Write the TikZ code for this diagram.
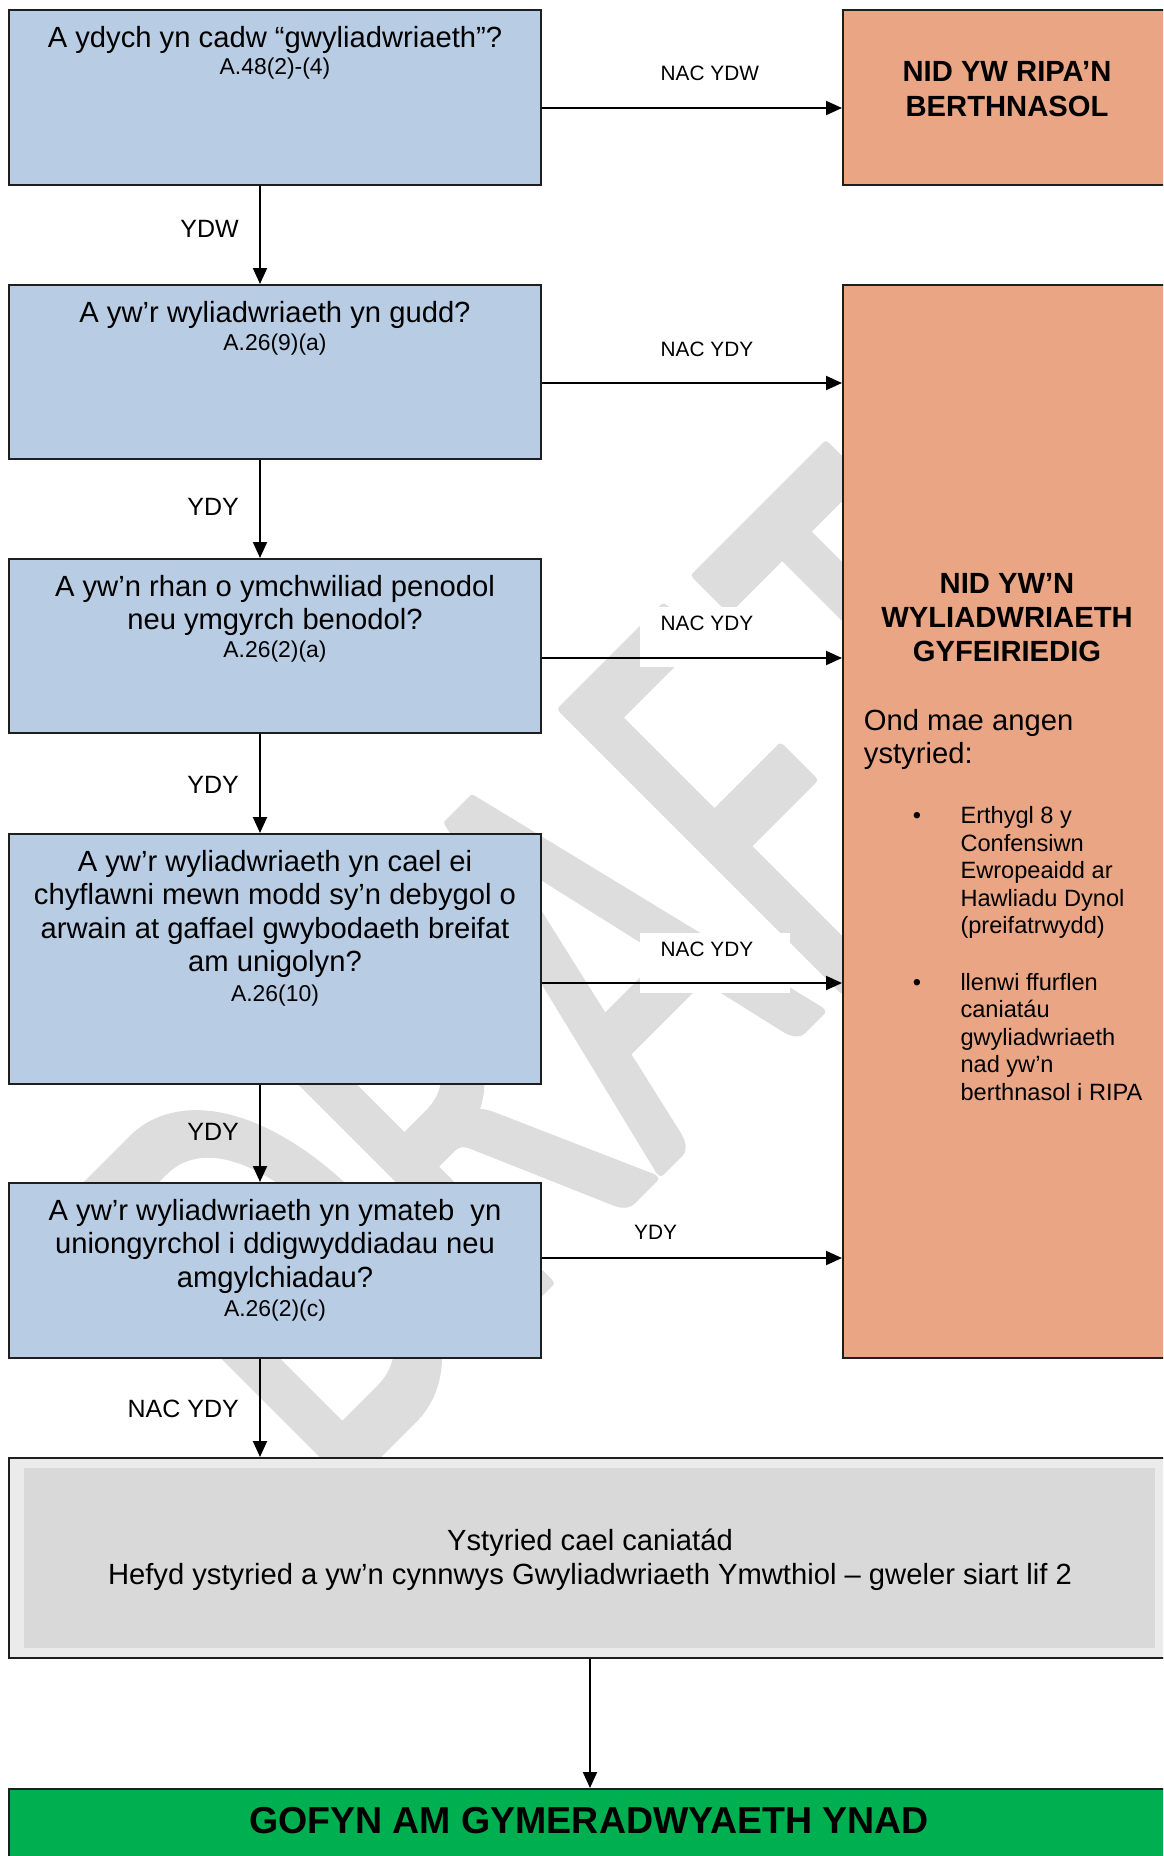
\documentclass[tikz,border=0pt]{standalone}
\usepackage{fontspec}
\usepackage{graphicx}
\setmainfont{Liberation Sans}
\newfontfamily\wmfont{Carlito}
\usetikzlibrary{arrows.meta}
\definecolor{boxblue}{RGB}{184,204,228}
\definecolor{boxorange}{RGB}{234,165,132}
\definecolor{boxgreen}{RGB}{0,176,80}
\definecolor{grayout}{RGB}{235,235,235}
\definecolor{grayin}{RGB}{217,217,217}
\definecolor{wmgray}{RGB}{221,221,221}
\definecolor{edgecol}{RGB}{30,30,30}
\tikzset{
  boxbase/.style={draw=edgecol, line width=2pt, rectangle, inner sep=0pt, anchor=north west},
  qbox/.style={boxbase, fill=boxblue, minimum width=532pt, minimum height=#1},
  obox/.style={boxbase, fill=boxorange, minimum width=340pt, minimum height=#1},
  qtext/.style={anchor=north, inner sep=0pt, align=center, font=\fontsize{29.2}{33.5}\selectfont},
  reftext/.style={anchor=base, inner sep=0pt, font=\fontsize{22.9}{26}\selectfont},
  llabel/.style={anchor=base east, inner sep=0pt, font=\fontsize{25}{28}\selectfont},
  rlabel/.style={anchor=base west, inner xsep=0pt, inner ysep=0pt, fill=white, text height=23pt, text depth=37pt, font=\fontsize{20.8}{24}\selectfont},
  arr/.style={line width=2pt, draw=black, -{Triangle[length=16pt,width=14pt]}},
  bullettext/.style={anchor=north west, inner sep=0pt, align=left, font=\fontsize{23.6}{27.5}\selectfont},
  bulletdot/.style={anchor=base, inner sep=0pt, font=\fontsize{23.6}{27.5}\selectfont},
}
\begin{document}
\begin{tikzpicture}[x=1pt,y=-1pt]
\clip (0,0) rectangle (1163,1856);
\fill[white] (0,0) rectangle (1163,1856);
% watermark
\node[rotate=45, anchor=base west, inner sep=0pt, text=wmgray, font=\fontsize{617}{617}\wmfont] (wm) at (330,1502) {\scalebox{0.65}[1]{\special{pdf:literal direct 1 j 1 J 9 w 2 Tr}DRAF\kern42pt T\special{pdf:literal direct 0 Tr}}};
% question boxes
\node[qbox=175pt] (q1) at (8,9) {};
\node[qbox=174pt] (q2) at (8,284) {};
\node[qbox=174pt] (q3) at (8,558) {};
\node[qbox=250pt] (q4) at (8,833) {};
\node[qbox=175pt] (q5) at (8,1182) {};
% outcome boxes
\node[obox=175pt] (o1) at (842,9) {};
\node[obox=1073pt] (o2) at (842,284) {};
\node[boxbase, fill=grayout, minimum width=1170pt, minimum height=200pt] (g) at (8,1457) {};
\fill[grayin] (24,1468) rectangle (1155,1648);
\node[boxbase, fill=boxgreen, minimum width=1170pt, minimum height=100pt] (gr) at (8,1788) {};
% question texts
\node[qtext] (t1) at ([yshift=-14pt]q1.north) {\rule{0pt}{24pt}A ydych yn cadw “gwyliadwriaeth”?};
\node[reftext] (r1) at ([yshift=-65pt]q1.north) {A.48(2)-(4)};
\node[qtext] (t2) at ([yshift=-14pt]q2.north) {\rule{0pt}{24pt}A yw’r wyliadwriaeth yn gudd?};
\node[reftext] (r2) at ([yshift=-66pt]q2.north) {A.26(9)(a)};
\node[qtext] (t3) at ([yshift=-14pt]q3.north) {\rule{0pt}{24pt}A yw’n rhan o ymchwiliad penodol\\neu ymgyrch benodol?};
\node[reftext] (r3) at ([yshift=-99.5pt]q3.north) {A.26(2)(a)};
\node[qtext] (t4) at ([yshift=-14pt]q4.north) {\rule{0pt}{24pt}A yw’r wyliadwriaeth yn cael ei\\chyflawni mewn modd sy’n debygol o\\arwain at gaffael gwybodaeth breifat\\am unigolyn?};
\node[reftext] (r4) at ([yshift=-168pt]q4.north) {A.26(10)};
\node[qtext] (t5) at ([yshift=-14pt]q5.north) {\rule{0pt}{24pt}A yw’r wyliadwriaeth yn ymateb\ \ yn\\uniongyrchol i ddigwyddiadau neu\\amgylchiadau?};
\node[reftext] (r5) at ([yshift=-134pt]q5.north) {A.26(2)(c)};
% outcome texts
\node[anchor=north, inner sep=0pt, align=center, font=\fontsize{29.2}{35}\selectfont\bfseries] (ot1) at (1007,57.7) {\rule{0pt}{24pt}NID YW RIPA’N\\BERTHNASOL};
\node[anchor=north, inner sep=0pt, align=center, font=\fontsize{29.2}{34}\selectfont\bfseries] (ot2) at (1007,569) {\rule{0pt}{24pt}NID YW’N\\WYLIADWRIAETH\\GYFEIRIEDIG};
\node[anchor=north west, inner sep=0pt, align=left, font=\fontsize{29.2}{33}\selectfont] (ot3) at (863.7,706) {\rule{0pt}{24pt}Ond mae angen\\ystyried:};
\node[bulletdot] (b1) at (917,823.3) {•};
\node[bullettext] (bt1) at (960.3,803.3) {\rule{0pt}{20pt}Erthygl 8 y\\Confensiwn\\Ewropeaidd ar\\Hawliadu Dynol\\(preifatrwydd)};
\node[bulletdot] (b2) at (917,990) {•};
\node[bullettext] (bt2) at (960.3,970) {\rule{0pt}{20pt}llenwi ffurflen\\caniatáu\\gwyliadwriaeth\\nad yw’n\\berthnasol i RIPA};
\node[anchor=north, inner sep=0pt, align=center, font=\fontsize{29.2}{34}\selectfont] (gt) at (590,1526) {\rule{0pt}{24pt}Ystyried cael caniatád\\Hefyd ystyried a yw’n cynnwys Gwyliadwriaeth Ymwthiol – gweler siart lif 2};
\node[anchor=base, inner sep=0pt, font=\fontsize{37.5}{40}\selectfont\bfseries] (grt) at (589,1833) {GOFYN AM GYMERADWYAETH YNAD};
% right labels
\node[rlabel] (l1) at (639.5,80) {\hspace*{21pt}NAC YDW\hspace*{31pt}};
\node[rlabel] (l2) at (639.5,356) {\hspace*{21pt}NAC YDY\hspace*{37pt}};
\node[rlabel] (l3) at (639.5,630.4) {\hspace*{21pt}NAC YDY\hspace*{37pt}};
\node[rlabel] (l4) at (639.5,956) {\hspace*{21pt}NAC YDY\hspace*{37pt}};
\node[anchor=base, inner sep=0pt, font=\fontsize{20.8}{24}\selectfont] (l5) at (655.6,1239) {YDY};
% left labels
\node[llabel] (d1) at (239,237) {YDW};
\node[llabel] (d2) at (239,515) {YDY};
\node[llabel] (d3) at (239,793.7) {YDY};
\node[llabel] (d4) at (239,1140.6) {YDY};
\node[llabel] (d5) at (239,1417) {NAC YDY};
% vertical arrows
\draw[arr] ([xshift=252pt]q1.south west) -- ([xshift=252pt]q2.north west);
\draw[arr] ([xshift=252pt]q2.south west) -- ([xshift=252pt]q3.north west);
\draw[arr] ([xshift=252pt]q3.south west) -- ([xshift=252pt]q4.north west);
\draw[arr] ([xshift=252pt]q4.south west) -- ([xshift=252pt]q5.north west);
\draw[arr] ([xshift=252pt]q5.south west) -- ([xshift=252pt]g.north west);
\draw[arr] ([xshift=582pt]g.south west) -- ([xshift=582pt]gr.north west);
% horizontal arrows
\draw[arr] ([yshift=-99pt]q1.north east) -- ([yshift=-99pt]q1.north east -| o1.west);
\draw[arr] ([yshift=-99pt]q2.north east) -- ([yshift=-99pt]q2.north east -| o2.west);
\draw[arr] ([yshift=-100pt]q3.north east) -- ([yshift=-100pt]q3.north east -| o2.west);
\draw[arr] ([yshift=-150pt]q4.north east) -- ([yshift=-150pt]q4.north east -| o2.west);
\draw[arr] ([yshift=-76pt]q5.north east) -- ([yshift=-76pt]q5.north east -| o2.west);
\end{tikzpicture}
\end{document}
